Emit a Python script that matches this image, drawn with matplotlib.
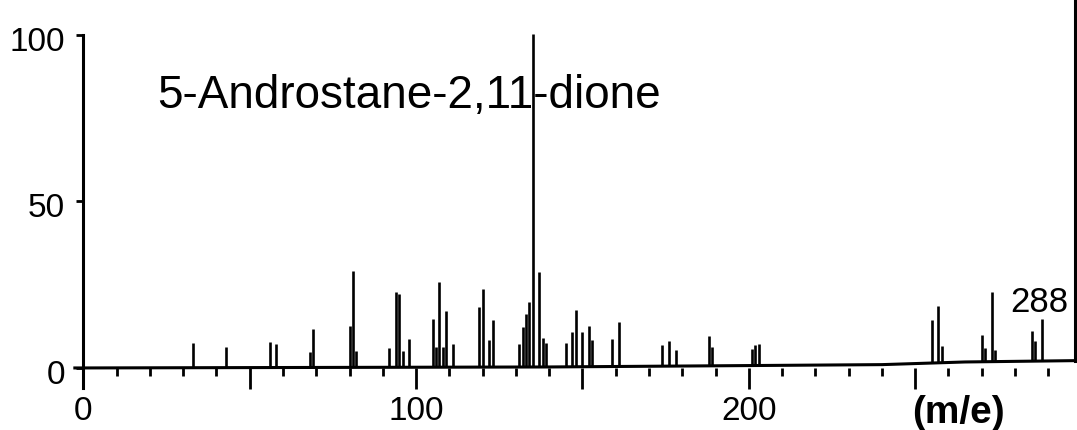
import matplotlib
matplotlib.use('Agg')
import matplotlib.pyplot as plt
import numpy as np
from matplotlib.transforms import ScaledTranslation
from matplotlib.ticker import FixedLocator

plt.rcParams['font.family'] = ['Liberation Sans', 'DejaVu Sans']

# ---- data (m/e, relative intensity) ----
mz = [33, 43, 56, 58, 68, 69, 80, 81, 82,
      92, 94, 95, 96, 98,
      105, 106, 107, 108, 109, 111,
      119, 120, 122, 123,
      131, 132, 133, 134, 135, 137, 138, 139,
      145, 147, 148, 150, 152, 153, 159, 161,
      174, 176, 178, 188, 189, 201, 202, 203,
      255, 257, 258, 270, 271, 273, 274, 285, 286, 288]
intensity = [7.3, 6.3, 7.6, 7.1, 4.6, 11.6, 12.4, 29.0, 5.0,
             5.8, 22.6, 22.1, 5.0, 8.6,
             14.5, 6.0, 25.5, 6.0, 17.0, 7.0,
             18.2, 23.6, 8.0, 14.0,
             7.0, 12.0, 16.0, 19.6, 100.0, 28.6, 8.6, 7.1,
             7.1, 10.5, 16.9, 10.4, 12.2, 8.0, 8.2, 13.5,
             6.5, 7.5, 4.7, 9.0, 5.7, 5.0, 6.3, 6.5,
             12.8, 17.0, 5.0, 8.0, 4.0, 21.0, 3.5, 9.2, 6.0, 12.7]

# slightly drifting recorder baseline
base_mz = [-3, 140, 240, 265, 298]
base_level = [0.0, 0.3, 1.0, 1.8, 2.2]

title = "5-Androstane-2,11-dione"
mol_ion_label = "288"
x_unit = "(m/e)"
x_major = [0, 50, 100, 150, 200, 250]
x_major_labels = ["0", "", "100", "", "200", ""]
x_minor = [m for m in range(10, 300, 10) if m % 50 != 0]
y_ticks = [0, 50, 100]
y_labels = ["0", "50", "100"]

fig = plt.figure(figsize=(10.77, 4.30), dpi=100)
ax = fig.add_axes([70 / 1077, 35.4 / 430, 1006.9 / 1077, 366.3 / 430])
ax.set_xlim(-4, 298.6)
ax.set_ylim(-8, 102)

b = np.interp(mz, base_mz, base_level)
ax.vlines(mz, b, b + np.array(intensity), color='k', lw=1.9)
ax.plot(base_mz, base_level, color='k', lw=2.2, solid_capstyle='butt')

# right frame line
ax.plot([298.0, 298.0], [2.2, 115], color='k', lw=2.2, clip_on=False)

for s in ['top', 'right']:
    ax.spines[s].set_visible(False)
ax.spines['bottom'].set_position(('data', 0))
ax.spines['bottom'].set_color('none')
ax.spines['left'].set_position(('data', 0))
ax.spines['left'].set_bounds(-6, 100)
ax.spines['left'].set_linewidth(2.2)

ax.xaxis.set_major_locator(FixedLocator(x_major))
ax.set_xticklabels(x_major_labels)
ax.xaxis.set_minor_locator(FixedLocator(x_minor))
ax.tick_params(axis='x', which='major', direction='out', length=15, width=2,
               pad=5, labelsize=24, color='k')
ax.tick_params(axis='x', which='minor', direction='out', length=6, width=2, color='k')

ax.set_yticks(y_ticks)
ax.set_yticklabels(y_labels)
ax.tick_params(axis='y', direction='out', length=5, width=2, pad=8, labelsize=24)
off = ScaledTranslation(0, -4 / 100, fig.dpi_scale_trans)
for lab in ax.get_yticklabels():
    lab.set_transform(lab.get_transform() + off)

ax.text(22.1, 78, title, fontsize=33, ha='left', va='baseline')
ax.text(278.5, 16.9, mol_ion_label, fontsize=25, ha='left', va='baseline')
ax.text(263.0, -16.6, x_unit, fontsize=28, fontweight='bold',
        ha='center', va='baseline', clip_on=False)

fig.savefig('out.png', dpi=100)
